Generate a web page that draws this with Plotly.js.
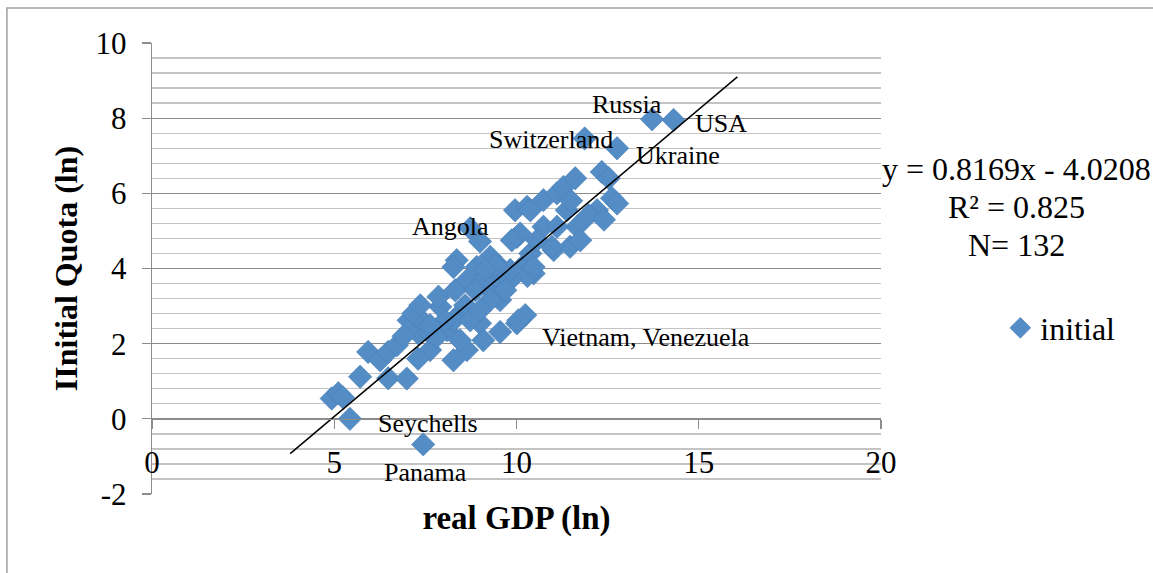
<!DOCTYPE html>
<html>
<head>
<meta charset="utf-8">
<script src="https://cdn.plot.ly/plotly-3.0.1.min.js"></script>
<style>
html,body{margin:0;padding:0;background:#fff;}
#chart{width:1153px;height:573px;}
</style>
</head>
<body>
<div id="chart"></div>
<script>
// real GDP (ln)
var gdp = [14.31,13.72,11.87,12.76,7.44,5.43,10.24,10.01,9.55,8.73,9.00,
  4.93,5.11,5.24,5.71,5.93,6.26,6.48,6.99,6.48,6.72,7.04,7.17,7.31,7.49,7.63,7.91,7.86,8.09,8.27,8.36,
  8.36,8.27,8.64,8.91,9.19,9.46,9.55,10.01,9.96,10.29,10.24,10.47,10.74,11.02,10.05,9.00,8.64,8.27,7.60,
  7.81,9.09,8.64,10.38,10.74,11.11,11.29,11.61,12.34,12.53,12.62,12.76,12.21,11.98,11.38,11.47,11.66,
  11.11,10.97,10.38,10.10,9.87,10.30,10.47,9.83,9.55,9.28,9.46,9.09,11.75,10.56,8.32,8.59,8.87,9.28,
  8.73,8.04,7.63,7.36,8.45,9.00,9.69,9.83,9.42,9.14,12.40,11.50,6.90,7.30];
// initial quota (ln)
var quota = [7.95,7.97,7.46,7.20,-0.68,0.00,2.76,2.54,2.31,5.07,4.72,
  0.54,0.68,0.57,1.12,1.78,1.56,1.08,1.07,1.78,1.96,2.62,2.80,2.27,2.54,1.83,2.98,3.25,2.36,1.56,2.71,
  4.22,4.04,3.69,4.04,3.51,3.78,3.16,4.84,5.55,5.64,4.13,3.87,5.11,4.49,2.62,2.54,2.89,2.62,2.30,
  2.18,2.09,1.83,5.55,5.82,6.00,6.17,6.40,6.57,6.40,5.87,5.73,5.55,5.42,5.55,4.58,5.11,
  5.11,4.58,4.40,4.93,4.75,3.80,4.04,3.69,4.04,4.31,3.25,3.69,4.75,4.75,3.42,3.02,3.42,3.16,
  2.62,2.62,2.49,3.02,2.09,2.89,3.42,3.96,4.09,3.96,5.30,5.80,2.20,1.60];
// trend line: y = slope*x + intercept, drawn over this x span
var slope = 0.8169, intercept = -4.0208;
var trendX = [3.79, 16.06];
var trendY = trendX.map(function(v){return slope*v + intercept;});
// labelled countries
var labelNames = ["Russia","USA","Switzerland","Ukraine","Angola","Vietnam, Venezuela","Seychells","Panama"];
var statsText = ["y = 0.8169x - 4.0208","R² = 0.825","N= 132"];
var yTicks = [-2,0,2,4,6,8,10];
var yTickText = ["-2","0","2","4","6","8","10"];
var xTicks = [0,5,10,15,20];

var FONT = "Liberation Serif, Times New Roman, serif";
var MAJ = "#8c8c8c", MIN = "#c4c4c4";

var traces = [
  {x: gdp, y: quota, type: "scatter", mode: "markers", name: "initial",
   marker: {symbol: "diamond", size: 18, color: "#548cc6", line: {color: "#4a7db5", width: 0.6}},
   cliponaxis: false},
  {x: trendX, y: trendY, type: "scatter", mode: "lines", showlegend: false,
   line: {color: "#000", width: 1.5}, hoverinfo: "skip", cliponaxis: false}
];

var labelPos = [[13.04,8.37],[15.62,7.87],[10.95,7.44],[14.44,7.02],[8.18,5.13],[13.56,2.17],[7.58,-0.12],[7.49,-1.42]];
var annotations = labelNames.map(function(t,i){
  return {x: labelPos[i][0], y: labelPos[i][1], xref: "x", yref: "y", text: t, showarrow: false,
          xanchor: "center", yanchor: "middle",
          font: {family: FONT, size: 26, color: "#000"}};
});
var statsY = [0.72, 0.636, 0.553];
statsText.forEach(function(t,i){
  annotations.push({x: 1.186, y: statsY[i], xref: "paper", yref: "paper", text: t,
    showarrow: false, xanchor: "center", yanchor: "middle",
    font: {family: FONT, size: 32, color: "#000"}});
});

var layout = {
  width: 1153, height: 573,
  margin: {l: 152, r: 272, t: 43, b: 79, pad: 0},
  paper_bgcolor: "#fff", plot_bgcolor: "#fff",
  font: {family: FONT, color: "#000"},
  showlegend: true,
  legend: {x: 1.1637, y: 0.368, xanchor: "left", yanchor: "middle", font: {family: FONT, size: 32},
           bgcolor: "rgba(0,0,0,0)"},
  xaxis: {range: [0, 20], tickvals: xTicks, anchor: "free", position: 2/12,
          showgrid: false, zeroline: false, showline: true, linecolor: MAJ, linewidth: 1.3,
          ticks: "outside", ticklen: 9, tickcolor: MAJ, tickwidth: 1.3,
          ticklabelstandoff: 7,
          tickfont: {family: FONT, size: 31, color: "#000"},
          title: {text: "<b>real GDP (ln)</b>", font: {family: FONT, size: 33, color: "#000"}, standoff: 26}},
  yaxis: {range: [-2, 10], tickvals: yTicks, ticktext: yTickText, showgrid: true, gridcolor: MAJ, gridwidth: 1.3,
          zeroline: false, showline: true, linecolor: MAJ, linewidth: 1.3,
          ticks: "outside", ticklen: 9, tickcolor: MAJ, tickwidth: 1.3,
          ticklabelstandoff: 9,
          minor: {dtick: 0.4, tick0: 0, showgrid: true, gridcolor: MIN, gridwidth: 1.3, ticks: ""},
          tickfont: {family: FONT, size: 31, color: "#000"},
          title: {text: "<b>IInitial Quota (ln)</b>", font: {family: FONT, size: 32, color: "#000"}, standoff: 8}},
  shapes: [
    {type: "rect", xref: "paper", yref: "paper", x0: -0.199, x1: 1.5, y0: -0.3, y1: 1.0777,
     line: {color: "#a0a0a0", width: 1.5}, fillcolor: "rgba(0,0,0,0)", layer: "below"}
  ],
  annotations: annotations
};

Plotly.newPlot("chart", traces, layout, {displayModeBar: false, staticPlot: true});
</script>
</body>
</html>
